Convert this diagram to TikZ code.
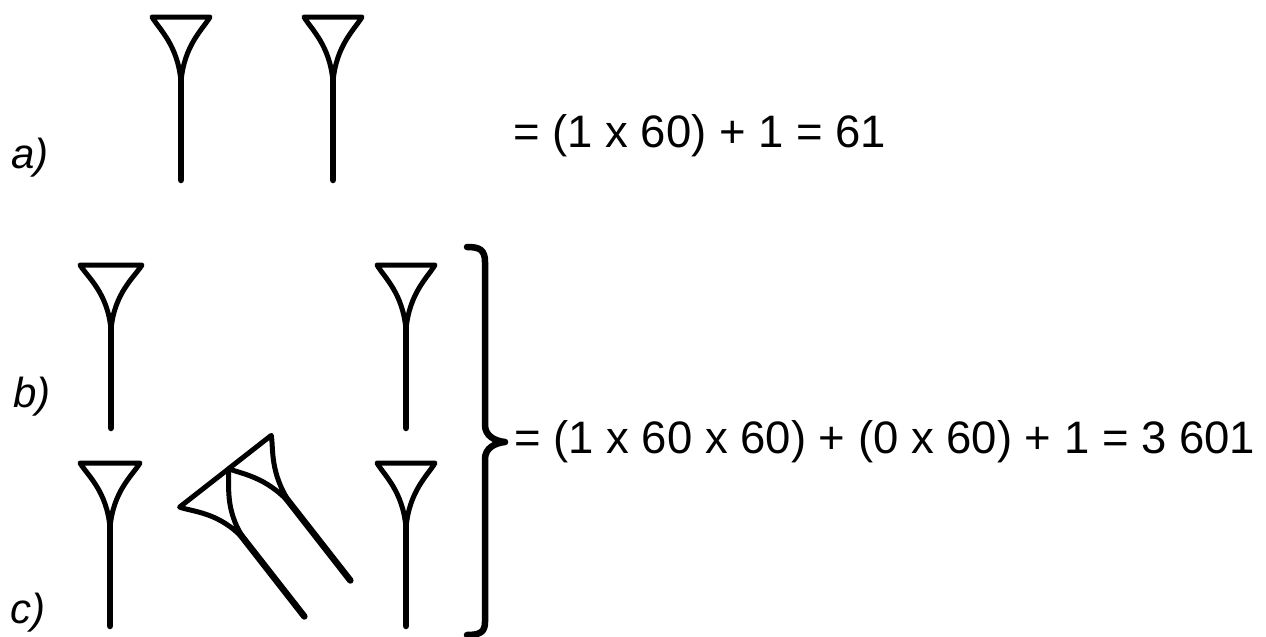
\documentclass[tikz,border=0pt]{standalone}
\usepackage{fontspec}
\setmainfont{Liberation Sans}
\begin{document}
\begin{tikzpicture}[x=1pt,y=-1pt,
  wedgeline/.style={line width=5pt,line join=round},
  stemline/.style={line width=6.5pt,line cap=round},
  pics/wedge/.default=29,
  pics/wedge/.style={code={
    \draw[wedgeline] (-#1,0) -- (#1,0) .. controls ({0.76*#1},12) and (3,28) .. (0,65)
       .. controls (-3,28) and ({-0.76*#1},12) .. (-#1,0) -- cycle;
    \draw[stemline] (0,55) -- (0,163);
  }},
  lbl/.style={font=\fontsize{42}{50}\selectfont\itshape, anchor=base west, inner sep=0pt},
  eq/.style={font=\fontsize{45.5}{55}\selectfont, anchor=base west, inner sep=0pt}
]
\useasboundingbox (0,0) rectangle (1266,637);
% row a
\pic (a1) at (181,17) {wedge=29};
\pic (a2) at (333,17) {wedge=29};
% row b
\pic (b1) at (111,265) {wedge=31};
\pic (b2) at (406,265) {wedge=29};
% row c
\pic (c1) at (110,463) {wedge=30};
\pic (c2) at (406,463) {wedge=29};
\pic[rotate=38] (c3) at (204,488) {wedge=31};
\pic[rotate=38] (c4) at (250,452) {wedge=27};
% brace
\draw[line width=6.5pt,line cap=round,line join=round]
  (467,247) .. controls (480,247) and (485,250) .. (485,262) -- (485,425)
  .. controls (485,436) and (495,441) .. (505,442)
  .. controls (495,443) and (485,448) .. (485,459) -- (485,622)
  .. controls (485,632) and (480,635) .. (467,635);
% labels
\node[lbl] (la) at (11,168) {a)};
\node[lbl] (lb) at (13,407) {b)};
\node[lbl] (lc) at (10,623) {c)};
% equations
\node[eq] (e1) at (513,147) {= (1 x 60) + 1 = 61};
\node[eq] (e2) at (514,453) {= (1 x 60 x 60) + (0 x 60) + 1 = 3 601};
\end{tikzpicture}
\end{document}
